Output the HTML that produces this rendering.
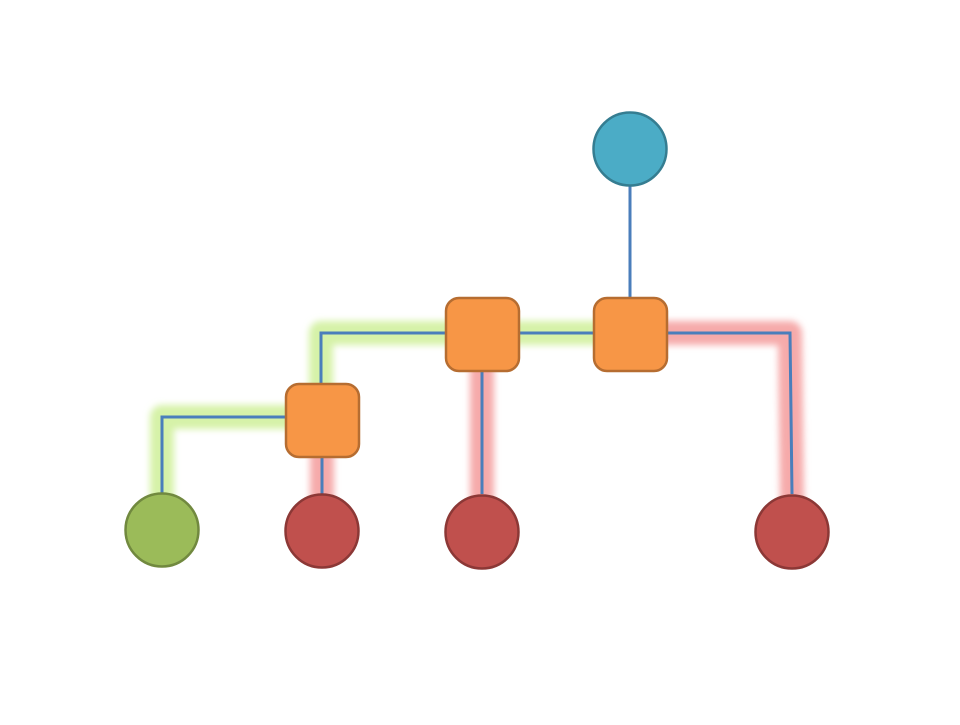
<!DOCTYPE html>
<html><head><style>body{margin:0;background:#fff}</style></head><body>
<svg width="960" height="720" viewBox="0 0 960 720" xmlns="http://www.w3.org/2000/svg">
<defs><filter id="b" x="-50%" y="-50%" width="200%" height="200%"><feGaussianBlur stdDeviation="3.5"/></filter></defs>
<g filter="url(#b)" fill="none" stroke-width="24" stroke-linejoin="round" stroke-linecap="round">
<path d="M596 333 H321 V390" stroke="#d6f2a8"/>
<path d="M292 417 H162 V495" stroke="#d6f2a8"/>
<path d="M322 455 V495" stroke="#f6aaaa"/>
<path d="M482 371 V495" stroke="#f6aaaa"/>
<path d="M664 333 H790 L792 500" stroke="#f6aaaa"/>
</g>
<g fill="none" stroke="#4a7ebb" stroke-width="3">
<path d="M630 186 V297"/>
<path d="M593 333 H321 V383"/>
<path d="M285 417 H162 V494"/>
<path d="M322 457 V494"/>
<path d="M482 371 V494"/>
<path d="M667 333 H790 L792 494"/>
</g>
<g fill="#f79646" stroke="#b66d31" stroke-width="2.5">
<rect x="446" y="298" width="73" height="73" rx="13"/>
<rect x="594" y="298" width="73" height="73" rx="13"/>
<rect x="286" y="384" width="73" height="73" rx="13"/>
</g>
<circle cx="630" cy="149" r="36.5" fill="#4bacc6" stroke="#357d91" stroke-width="2.5"/>
<circle cx="162" cy="530" r="36.5" fill="#9bbb59" stroke="#71893f" stroke-width="2.5"/>
<g fill="#c0504d" stroke="#8c3836" stroke-width="2.5">
<circle cx="322" cy="531" r="36.5"/>
<circle cx="482" cy="532" r="36.5"/>
<circle cx="792" cy="532" r="36.5"/>
</g>
</svg>
</body></html>
